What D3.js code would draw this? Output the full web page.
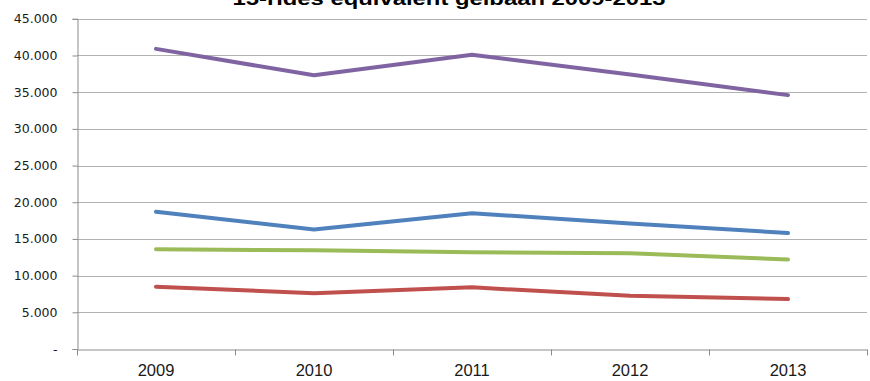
<!DOCTYPE html>
<html>
<head>
<meta charset="utf-8">
<script src="https://cdn.jsdelivr.net/npm/d3@7"></script>
<style>
  body { margin: 0; background: #fff; }
  svg { display: block; }
</style>
</head>
<body>
<script>
var years = ['2009', '2010', '2011', '2012', '2013'];
var purple = [40900, 37300, 40100, 37400, 34600];
var blue   = [18700, 16300, 18500, 17100, 15800];
var green  = [13600, 13450, 13200, 13050, 12200];
var red    = [8500, 7600, 8400, 7250, 6800];
var yTicks = [0, 5000, 10000, 15000, 20000, 25000, 30000, 35000, 40000, 45000];

var series = [
  { values: blue,   color: '#4f81bd' },
  { values: red,    color: '#c0504d' },
  { values: green,  color: '#9bbb59' },
  { values: purple, color: '#8064a2' }
];

var width = 870, height = 381;
var plotLeft = 77, plotRight = 867, plotTop = 18.8, plotBottom = 349;

var svg = d3.select('body').append('svg')
    .attr('width', width)
    .attr('height', height);

var x = d3.scaleBand().domain(years).range([plotLeft, plotRight]);
var y = d3.scaleLinear().domain([0, 45000]).range([plotBottom, plotTop]);

// title (cut off at the top)
svg.append('text')
    .attr('x', 449).attr('y', 5)
    .attr('text-anchor', 'middle')
    .attr('textLength', 433)
    .attr('lengthAdjust', 'spacingAndGlyphs')
    .style('font-family', 'Liberation Sans, Arial, sans-serif')
    .style('font-weight', 'bold')
    .style('font-size', '19px')
    .text('15-rides equivalent gelbaan 2009-2013');

// gridlines
svg.append('g').selectAll('line')
    .data(yTicks.filter(function (d) { return d > 0; }))
    .enter().append('line')
    .attr('x1', plotLeft).attr('x2', plotRight)
    .attr('y1', function (d) { return Math.round(y(d)) + 0.5; })
    .attr('y2', function (d) { return Math.round(y(d)) + 0.5; })
    .attr('stroke', '#b3b3b3')
    .attr('stroke-width', 1);

// y axis
var yAxis = d3.axisLeft(y)
    .tickValues(yTicks)
    .tickSize(5)
    .tickPadding(15)
    .tickFormat(function (d) { return d === 0 ? '-' : (d / 1000).toFixed(3); });
var gy = svg.append('g')
    .attr('transform', 'translate(' + (plotLeft + 0.5) + ',0)')
    .call(yAxis);
gy.selectAll('path, line').attr('stroke', '#8c8c8c');
gy.selectAll('text')
    .style('font-family', 'DejaVu Sans, Verdana, sans-serif')
    .style('font-size', '12.5px')
    .attr('fill', '#1a1a1a');

// x axis
var xAxis = d3.axisBottom(x).tickSize(0).tickPadding(15);
var gx = svg.append('g')
    .attr('transform', 'translate(0,' + (plotBottom + 0.5) + ')')
    .call(xAxis);
gx.select('.domain').attr('stroke', '#8c8c8c');
gx.selectAll('text')
    .style('font-family', 'Liberation Sans, Arial, sans-serif')
    .style('font-size', '16.5px')
    .attr('fill', '#1a1a1a');
// tick marks between categories
gx.append('g').selectAll('line')
    .data(years.concat(['end']))
    .enter().append('line')
    .attr('x1', function (d, i) { return Math.round(plotLeft + i * x.step()) + 0.5; })
    .attr('x2', function (d, i) { return Math.round(plotLeft + i * x.step()) + 0.5; })
    .attr('y1', 0).attr('y2', 6)
    .attr('stroke', '#8c8c8c');

// lines
var line = d3.line()
    .x(function (d, i) { return x(years[i]) + x.bandwidth() / 2; })
    .y(function (d) { return y(d); });

svg.append('g').selectAll('path')
    .data(series)
    .enter().append('path')
    .attr('d', function (d) { return line(d.values); })
    .attr('fill', 'none')
    .attr('stroke', function (d) { return d.color; })
    .attr('stroke-width', 4)
    .attr('stroke-linecap', 'round')
    .attr('stroke-linejoin', 'round');
</script>
</body>
</html>
